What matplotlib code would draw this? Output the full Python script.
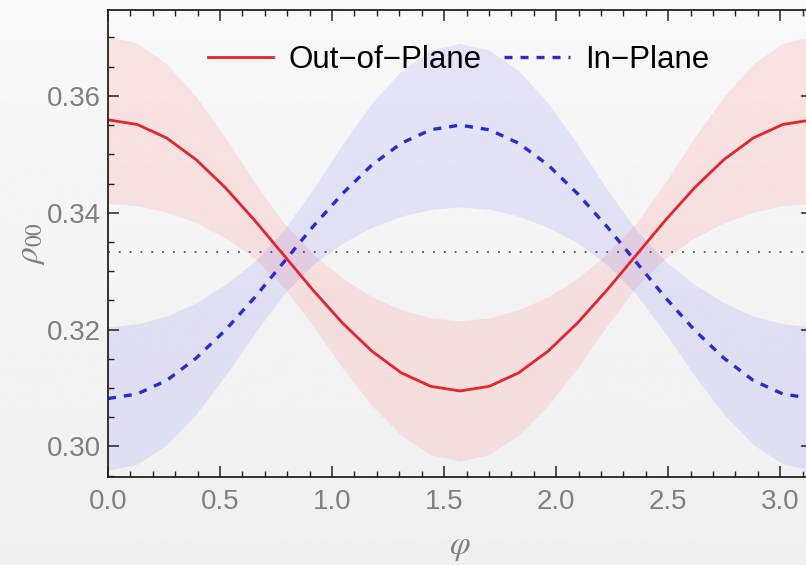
import numpy as np
import matplotlib
matplotlib.use("Agg")
import matplotlib.pyplot as plt
from matplotlib.ticker import MultipleLocator, FormatStrFormatter

phi = np.arange(25) * np.pi / 24

# Out-of-Plane (red): centre line and band edges
red_mid = [0.3559, 0.3551, 0.3528, 0.3491, 0.3443, 0.3387, 0.3327, 0.3267, 0.3211,
           0.3163, 0.3126, 0.3103, 0.3095, 0.3103, 0.3126, 0.3163, 0.3211, 0.3267,
           0.3327, 0.3387, 0.3443, 0.3491, 0.3528, 0.3551, 0.3559]
red_hi = [0.3702, 0.3690, 0.3655, 0.3599, 0.3529, 0.3452, 0.3382, 0.3329, 0.3288,
          0.3256, 0.3234, 0.3220, 0.3215, 0.3220, 0.3234, 0.3256, 0.3288, 0.3329,
          0.3382, 0.3452, 0.3529, 0.3599, 0.3655, 0.3690, 0.3702]
red_lo = [0.3416, 0.3412, 0.3401, 0.3383, 0.3357, 0.3322, 0.3272, 0.3206, 0.3134,
          0.3070, 0.3019, 0.2986, 0.2975, 0.2986, 0.3019, 0.3070, 0.3134, 0.3206,
          0.3272, 0.3322, 0.3357, 0.3383, 0.3401, 0.3412, 0.3416]

# In-Plane (blue)
blue_mid = [0.3082, 0.3090, 0.3113, 0.3151, 0.3199, 0.3255, 0.3316, 0.3377, 0.3433,
            0.3482, 0.3519, 0.3542, 0.3550, 0.3542, 0.3519, 0.3482, 0.3433, 0.3377,
            0.3316, 0.3255, 0.3199, 0.3151, 0.3113, 0.3090, 0.3082]
blue_hi = [0.3205, 0.3210, 0.3223, 0.3246, 0.3277, 0.3317, 0.3371, 0.3441, 0.3518,
           0.3588, 0.3643, 0.3678, 0.3690, 0.3678, 0.3643, 0.3588, 0.3518, 0.3441,
           0.3371, 0.3317, 0.3277, 0.3246, 0.3223, 0.3210, 0.3205]
blue_lo = [0.2959, 0.2970, 0.3003, 0.3055, 0.3121, 0.3194, 0.3261, 0.3312, 0.3348,
           0.3375, 0.3394, 0.3406, 0.3410, 0.3406, 0.3394, 0.3375, 0.3348, 0.3312,
           0.3261, 0.3194, 0.3121, 0.3055, 0.3003, 0.2970, 0.2959]

ref_level = 1 / 3

plt.rcParams['font.family'] = ['Liberation Sans', 'DejaVu Sans']
plt.rcParams['mathtext.fontset'] = 'stix'

fig = plt.figure(figsize=(8.06, 5.65), dpi=100)

# soft grey gradient background
bg = fig.add_axes([0, 0, 1, 1], zorder=-10)
grad = np.linspace(0.975, 0.94, 256).reshape(-1, 1)
bg.imshow(grad, aspect='auto', cmap='gray', vmin=0, vmax=1, extent=[0, 1, 0, 1])
bg.axis('off')

ax = fig.add_axes([0.134, 0.156, 0.8734, 0.8263])
ax.patch.set_alpha(0)

red = '#e8232b'
blue = '#2b2bd6'

ax.fill_between(phi, red_lo, red_hi, color='red', alpha=0.085, lw=0)
ax.fill_between(phi, blue_lo, blue_hi, color='blue', alpha=0.08, lw=0)
ax.axhline(ref_level, color='#555555', lw=1.3, ls=(0, (1, 5)))
ax.plot(phi, red_mid, color=red, lw=2.0, label='Out\u2212of\u2212Plane')
ax.plot(phi, blue_mid, color=blue, lw=2.4, ls=(0, (2.4, 2.4)), label='In\u2212Plane')

ax.set_xlim(0, np.pi)
ax.set_ylim(0.2948, 0.3747)

ax.xaxis.set_major_locator(MultipleLocator(0.5))
ax.xaxis.set_minor_locator(MultipleLocator(0.1))
ax.yaxis.set_major_locator(MultipleLocator(0.02))
ax.yaxis.set_minor_locator(MultipleLocator(0.005))
ax.xaxis.set_major_formatter(FormatStrFormatter('%.1f'))
ax.yaxis.set_major_formatter(FormatStrFormatter('%.2f'))

ax.tick_params(which='both', direction='in', top=True, right=True, color='#222222',
               labelcolor='#808080', labelsize=20)
ax.tick_params(which='major', length=8, width=1.1)
ax.tick_params(which='minor', length=4.5, width=1.0)
ax.tick_params(axis='x', pad=9)
ax.tick_params(axis='y', pad=5)
for s in ax.spines.values():
    s.set_color('#222222')
    s.set_linewidth(1.3)

ax.set_xlabel(r'$\varphi$', fontsize=24, color='#808080', labelpad=12)
ax.set_ylabel(r'$\rho_{00}$', fontsize=24, color='#808080', labelpad=0)

ax.legend(loc='upper center', bbox_to_anchor=(0.498, 0.985), ncol=2, frameon=False,
          fontsize=22.5, handlelength=2.1, handletextpad=0.5, columnspacing=0.7)

fig.savefig('out.png', dpi=100)
